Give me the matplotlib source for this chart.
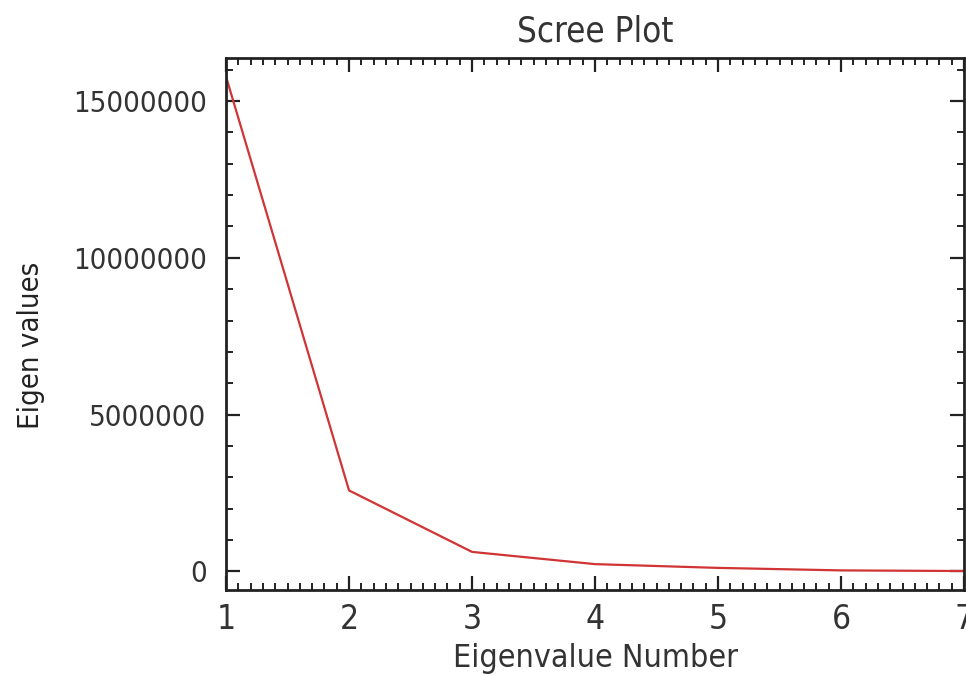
import matplotlib
matplotlib.use("Agg")
import matplotlib.pyplot as plt
from matplotlib.ticker import MultipleLocator, FixedLocator

eigen_number = [1, 2, 3, 4, 5, 6, 7]
eigen_values = [15780000, 2580000, 620000, 230000, 110000, 30000, 10000]
x_ticks = [1, 2, 3, 4, 5, 6, 7]
y_ticks = [0, 5000000, 10000000, 15000000]

plt.rcParams['font.family'] = ['DejaVu Sans Condensed', 'DejaVu Sans']
plt.rcParams['font.stretch'] = 'condensed'

fig = plt.figure(figsize=(9.66, 6.76), dpi=100)
ax = fig.add_axes([0.234, 0.127, 0.764, 0.787])

ax.plot(eigen_number, eigen_values, color='#d03434', linewidth=1.6)

ax.set_xlim(1, 7)
ax.set_ylim(-600000, 16370000)
ax.xaxis.set_major_locator(FixedLocator(x_ticks))
ax.xaxis.set_minor_locator(MultipleLocator(0.1))
ax.yaxis.set_major_locator(FixedLocator(y_ticks))
ax.yaxis.set_minor_locator(MultipleLocator(1000000))
ax.set_xticklabels([str(v) for v in x_ticks])
ax.set_yticklabels([str(v) for v in y_ticks])

ax.tick_params(which='both', direction='in', top=True, right=True, colors='#222222',
               labelcolor='#333333')
ax.tick_params(which='major', length=10, width=1.6, labelsize=21)
ax.tick_params(axis='y', which='major', pad=14)
ax.tick_params(axis='x', which='major', pad=9, labelsize=24)
ax.tick_params(which='minor', length=5, width=1.4)
for s in ax.spines.values():
    s.set_linewidth(2)
    s.set_color('#222222')

ax.set_title('Scree Plot', fontsize=25, color='#333333', pad=12)
ax.set_xlabel('Eigenvalue Number', fontsize=23, color='#333333', labelpad=5)
ax.set_ylabel('Eigen values', fontsize=21, color='#222222')
ax.yaxis.set_label_coords(-0.245, 0.46)

fig.savefig('out.png', dpi=100)
